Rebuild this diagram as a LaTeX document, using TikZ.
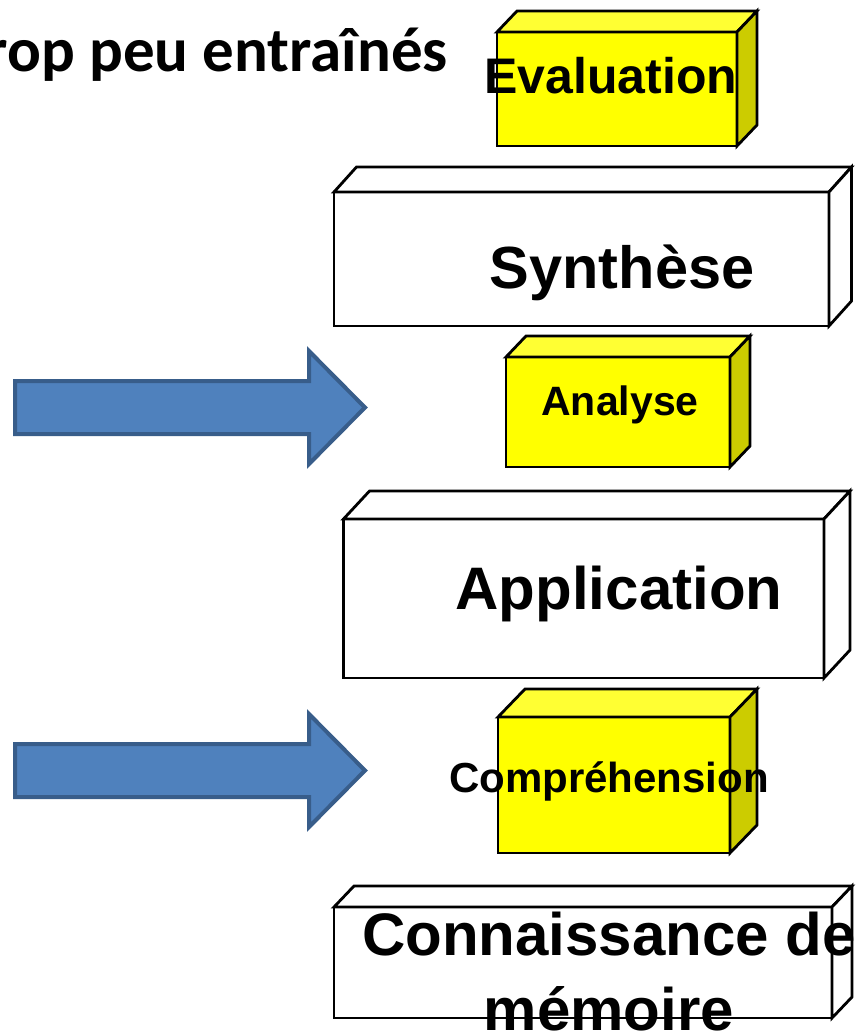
\documentclass[tikz,border=0pt]{standalone}
\usepackage{fontspec}
\setmainfont{Liberation Sans}
\newfontfamily\calibri{Carlito}
\usetikzlibrary{calc}
\definecolor{jaune}{HTML}{FFFF00}
\definecolor{jauneHaut}{HTML}{FFFF33}
\definecolor{jauneCote}{HTML}{CCCC00}
\definecolor{bleuFond}{HTML}{4F81BD}
\definecolor{bleuBord}{HTML}{385D8A}
\tikzset{
	bloc/.style={draw=black, line width=2.8pt, line join=miter},
	fleche/.style={draw=bleuBord, fill=bleuFond, line width=4pt, line join=miter},
	etiquette/.style={font=\bfseries\fontsize{#1}{#1}\selectfont, inner sep=0pt, anchor=base, text=black}
}
% front corners, depth, colours of front / top / side
\newcommand{\boite}[9]{%
	\filldraw[bloc, fill=#7] (#1,#2) rectangle (#3,#4);
	\filldraw[bloc, fill=#8] (#1,#2) -- (#1+#5,#2-#6) -- (#3+#5,#2-#6) -- (#3,#2) -- cycle;
	\filldraw[bloc, fill=#9] (#3,#2) -- (#3+#5,#2-#6) -- (#3+#5,#4-#6) -- (#3,#4) -- cycle;
}
\newcommand{\fleche}[1]{%
	\filldraw[fleche] (15,#1-26.5) -- (309,#1-26.5) -- (309,#1-56.5) -- (365,#1)
		-- (309,#1+56.5) -- (309,#1+26.5) -- (15,#1+26.5) -- cycle;
}
\begin{document}
\begin{tikzpicture}[x=1pt, y=-1pt]
	\useasboundingbox (0,0) rectangle (863,1033);
	% les blocs
	\boite{497}{32}{737}{146}{20}{21}{jaune}{jauneHaut}{jauneCote}
	\boite{334}{192}{829}{326}{22.5}{25}{white}{white}{white}
	\boite{506}{357}{730}{467}{20}{21}{jaune}{jauneHaut}{jauneCote}
	\boite{343.5}{519}{824}{678}{26}{28}{white}{white}{white}
	\boite{498}{717}{730}{853}{27}{28}{jaune}{jauneHaut}{jauneCote}
	\boite{334}{907}{832}{1018}{20}{21}{white}{white}{white}
	% les fleches
	\fleche{407.5}
	\fleche{770.5}
	% les textes
	\node[etiquette=50] at (611,93) (eval) {Evaluation};
	\node[etiquette=59.5] at (622,288) (synth) {Synthèse};
	\node[etiquette=41] at (620,415) (anal) {Analyse};
	\node[etiquette=60] at (619,609) (appl) {Application};
	\node[etiquette=42] at (609,792) (compr) {Compréhension};
	\node[etiquette=60, font=\bfseries\fontsize{60}{75}\selectfont, align=center] at (609,1030) (conn) {Connaissance de\\mémoire};
	\node[inner sep=0pt, anchor=base east, font=\calibri\bfseries\fontsize{63}{63}\selectfont] at (448,71) (titre) {rop peu entraînés};
\end{tikzpicture}
\end{document}
